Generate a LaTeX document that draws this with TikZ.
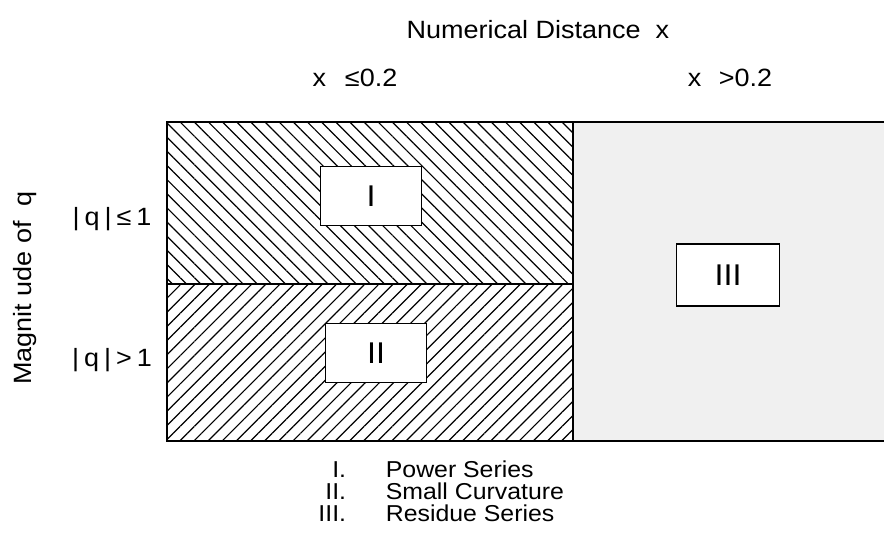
\documentclass[tikz,border=0pt]{standalone}
\usepackage{fontspec}
\setmainfont{Liberation Sans}[FakeStretch=1.08]
\usetikzlibrary{patterns.meta,positioning}

\begin{document}
\begin{tikzpicture}[x=1pt, y=-1pt, line width=1.8pt]

  % Styles
  \tikzset{
    hatchdown/.style={pattern={Lines[angle=-45, distance=10pt, line width=1.2pt]}},
    hatchup/.style={pattern={Lines[angle=45, distance=10pt, line width=1.2pt]}},
    numbox/.style={draw, fill=white, line width=1.6pt, minimum width=101pt, minimum height=59pt, inner sep=0pt, font=\fontsize{30}{36}\selectfont},
    axislabel/.style={font=\fontsize{25}{30}\selectfont, inner sep=0pt},
    legend/.style={font=\fontsize{23}{26}\selectfont, inner sep=0pt}
  }

  \useasboundingbox (0,0) rectangle (884,550);

  % Corners of the regions
  \coordinate (nw) at (167,122);
  \coordinate (sw) at (167,441);
  \coordinate (nm) at (573,122);
  \coordinate (sm) at (573,441);
  \coordinate (wm) at (167,284);
  \coordinate (cm) at (573,284);
  \coordinate (ne) at (884,122);
  \coordinate (se) at (884,441);

  % Regions
  \fill[black!6] (nm) rectangle (se);
  \path[hatchdown] (nw) rectangle (cm);
  \path[hatchup] (wm) rectangle (sm);
  \draw (ne) -- (nw) -- (sw) -- (se);
  \draw (nm) -- (sm);
  \draw (wm) -- (cm);

  % Method boxes
  \node[numbox] (boxI) at (371,196) {I};
  \node[numbox] (boxII) at (376,353) {II};
  \node[numbox, minimum width=103pt, minimum height=62pt] (boxIII) at (728,275) {III};

  % Axis texts
  \node[axislabel] (title) at (538,30) {Numerical Distance\hspace{0.6em}x};
  \node[axislabel] (xsmall) at (355,78) {x\hspace{0.75em}≤0.2};
  \node[axislabel] (xlarge) at (730,78) {x\hspace{0.7em}>0.2};
  \node[axislabel, rotate=90] (magq) at (25,288) {Magnit ude of\ \ q};
  \node[axislabel] (qsmall) at (112,219) {|\hspace{0.2em}q\hspace{0.2em}|\hspace{0.2em}≤\hspace{0.2em}1};
  \node[axislabel] (qlarge) at (112,360) {|\hspace{0.2em}q\hspace{0.2em}|\hspace{0.2em}>\hspace{0.2em}1};

  % Legend
  \node[legend, anchor=base east] (numI) at (347,477) {I.};
  \node[legend, anchor=base east] (numII) at (347,499) {II.};
  \node[legend, anchor=base east] (numIII) at (347,521) {III.};
  \node[legend, right=38pt of numI.base east, anchor=base west] (powser) {Power Series};
  \node[legend, right=38pt of numII.base east, anchor=base west] (smcurv) {Small Curvature};
  \node[legend, right=38pt of numIII.base east, anchor=base west] (resser) {Residue Series};

\end{tikzpicture}
\end{document}
